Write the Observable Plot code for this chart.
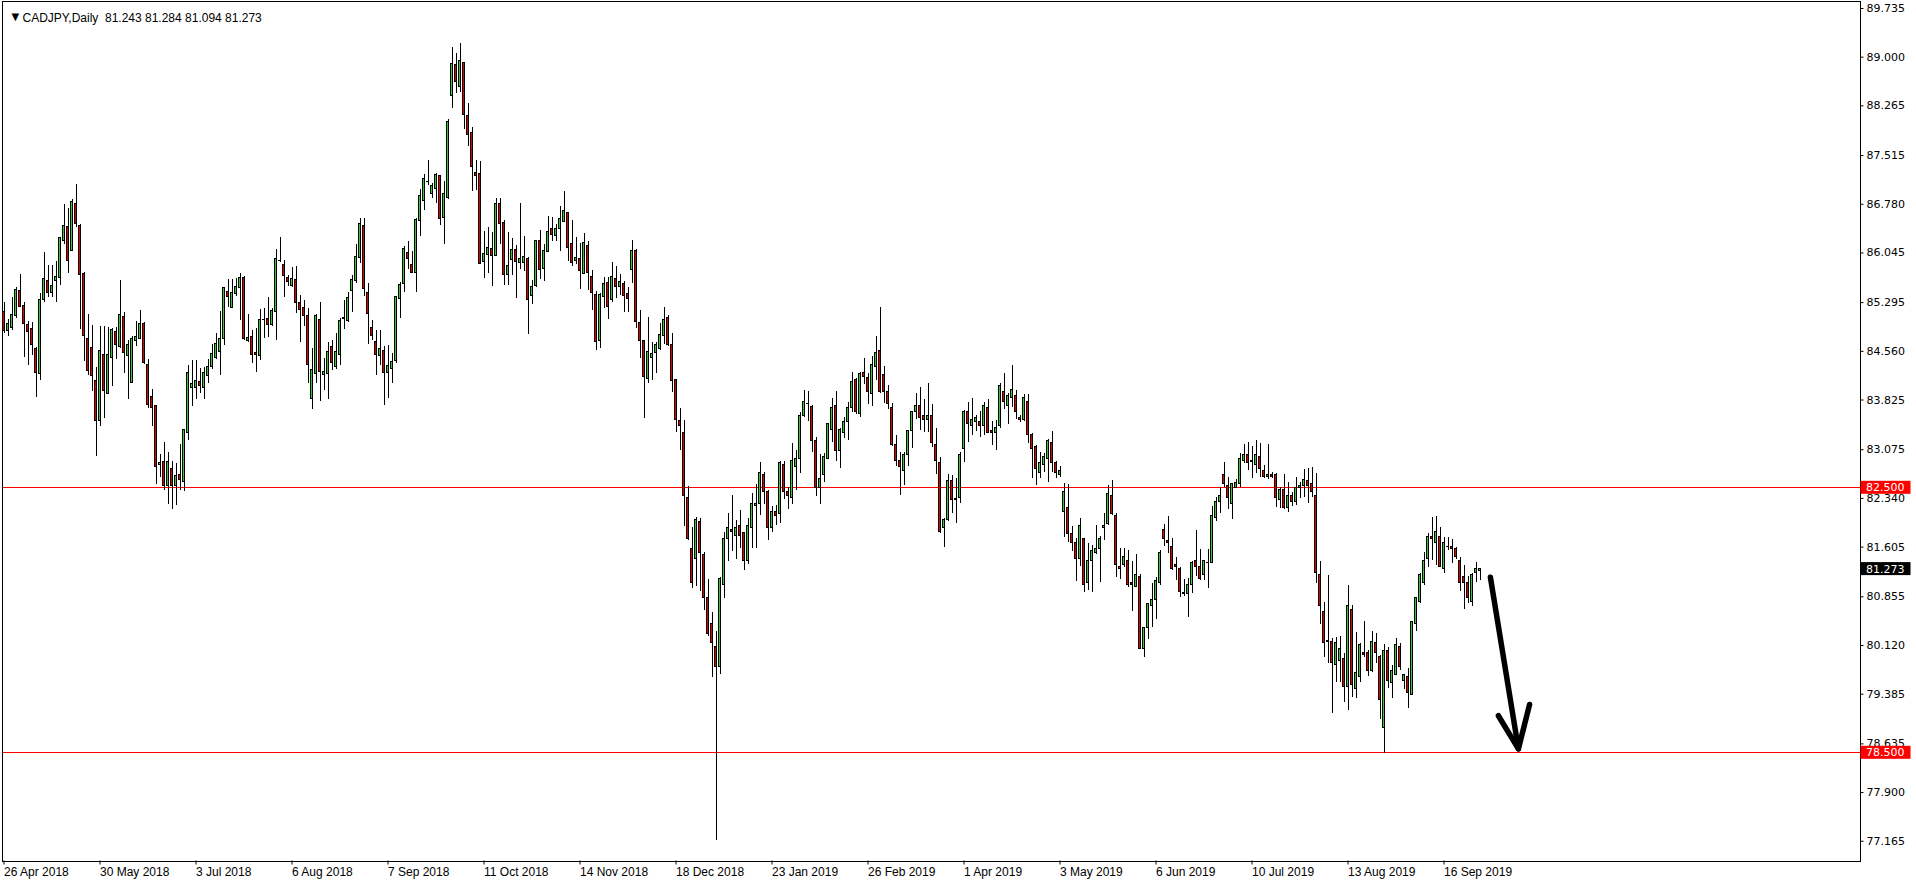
<!DOCTYPE html>
<html><head><meta charset="utf-8">
<script src="https://cdn.jsdelivr.net/npm/d3@7"></script>
<script src="https://cdn.jsdelivr.net/npm/@observablehq/plot@0.6"></script>
<style>html,body{margin:0;padding:0;background:#fff;overflow:hidden}</style>
</head><body><div id="chart"></div>
<script>
// CADJPY daily candles, bar index 0 = 26 Apr 2018 ... 369 = 27 Sep 2019
const open = [85.15,84.87,84.91,85.09,85.47,85.25,84.95,84.90,84.60,84.22,85.33,85.62,85.44,85.62,85.67,86.22,86.44,86.08,86.79,86.45,
85.73,84.75,84.61,84.11,83.51,84.51,83.92,84.46,84.85,84.63,85.08,84.49,84.08,84.72,84.75,84.97,84.36,83.87,83.73,82.85,
82.89,82.53,82.79,82.53,82.70,82.59,83.33,84.01,84.01,84.10,84.01,84.19,84.32,84.46,84.55,84.75,85.46,85.22,85.43,85.51,
85.67,84.71,84.78,84.53,84.49,85.03,85.05,84.96,85.15,85.93,85.87,85.66,85.54,85.64,85.29,85.21,85.09,83.84,84.22,85.03,
84.20,84.22,84.63,84.33,84.51,85.05,85.02,85.47,85.62,85.97,86.45,85.44,84.91,84.70,84.49,84.57,84.24,84.30,84.41,85.35,
85.57,86.05,85.87,85.74,86.53,86.83,87.12,86.93,87.01,87.20,86.57,86.87,88.42,88.88,88.55,88.91,88.11,87.86,87.25,87.24,
85.91,86.02,86.11,86.00,86.78,86.50,85.71,85.94,86.09,85.90,85.89,85.96,85.39,85.54,86.23,85.80,86.06,86.41,86.30,86.40,
86.51,86.65,86.18,85.93,85.96,85.73,86.15,85.68,85.41,84.72,85.38,85.59,85.34,85.65,85.53,85.58,85.42,85.79,86.08,84.99,
84.72,84.14,84.46,84.54,84.59,84.79,85.07,84.66,84.12,83.51,83.33,82.34,81.58,81.43,81.99,81.49,80.84,80.45,80.09,79.79,
81.04,81.72,81.87,81.78,81.92,81.82,81.39,81.89,82.22,82.26,82.69,82.43,81.89,82.13,82.11,82.84,82.43,82.34,82.82,82.93,
83.58,83.77,83.72,83.21,82.50,82.69,82.93,83.38,83.73,83.06,83.32,83.49,83.70,84.12,83.61,84.24,84.15,83.92,84.33,84.57,
84.21,83.95,83.71,83.15,82.90,82.76,83.00,83.35,83.64,83.73,83.58,83.53,83.59,83.15,82.87,81.90,82.01,82.61,82.33,82.34,
83.08,83.64,83.43,83.50,83.50,83.43,83.71,83.35,83.32,83.43,83.94,83.73,83.85,83.88,83.56,83.53,83.79,83.30,83.12,82.72,
82.85,82.94,83.17,82.87,82.70,82.13,82.20,81.80,81.67,81.43,81.73,81.07,81.39,81.51,81.57,81.89,81.95,82.38,82.07,81.31,
81.33,81.39,81.07,81.01,81.16,80.06,80.38,80.71,80.81,81.06,81.87,81.69,81.60,81.33,81.28,80.90,80.89,81.03,81.39,81.30,
81.19,81.36,81.36,82.04,82.28,82.69,82.53,82.26,82.50,82.56,82.90,83.00,82.90,82.84,82.97,82.76,82.66,82.70,82.70,82.31,
82.47,82.19,82.37,82.28,82.50,82.52,82.60,82.56,82.37,81.18,80.62,80.19,80.18,79.83,79.88,79.92,79.49,80.66,79.46,79.64,
80.01,80.00,79.73,80.16,79.95,78.88,80.04,79.56,79.68,80.09,79.59,79.65,79.38,80.44,80.77,81.06,81.43,81.75,81.67,81.76,
81.27,81.61,81.60,81.57,81.40,81.16,81.07,80.78,81.21,81.243];
const high = [85.30,85.04,85.38,85.52,85.72,85.29,85.01,85.00,84.62,85.43,86.05,85.86,85.86,85.91,86.28,86.78,86.71,86.85,87.08,86.48,
85.75,85.11,84.95,84.32,84.94,84.94,84.92,84.90,84.92,85.63,85.14,84.73,84.79,85.01,85.17,85.00,84.44,83.99,83.74,83.01,
83.18,83.03,82.89,82.86,83.15,83.38,84.34,84.42,84.42,84.30,84.31,84.44,84.67,84.83,85.16,85.53,85.64,85.65,85.66,85.73,
85.69,85.11,84.87,84.90,85.19,85.20,85.37,85.20,86.10,86.28,85.93,85.70,85.83,85.84,85.41,85.33,85.21,84.60,85.11,85.29,
84.45,84.70,84.72,84.83,85.05,85.32,85.45,85.71,86.17,86.56,86.56,85.58,85.03,84.87,84.87,84.64,84.65,84.52,85.39,85.60,
86.14,86.22,86.07,86.57,87.00,87.23,87.44,87.09,87.24,87.21,87.12,88.06,89.14,89.06,89.20,88.92,88.30,87.94,87.44,87.43,
86.37,86.43,86.36,86.86,86.86,86.53,86.35,86.27,86.16,86.79,86.29,85.98,85.63,86.23,86.38,86.18,86.59,86.58,86.47,86.75,
86.97,86.66,86.53,86.28,86.19,86.34,86.22,85.78,85.46,85.43,85.68,85.68,85.90,85.84,85.72,85.62,85.52,86.23,86.09,85.18,
84.73,85.07,84.69,84.70,84.98,85.22,85.10,84.83,84.14,83.70,83.51,82.52,81.90,82.05,82.04,81.52,81.12,80.62,80.33,81.15,
81.83,82.11,82.38,82.01,82.16,81.83,82.04,82.41,82.55,82.88,82.73,82.46,82.22,82.23,82.90,82.90,82.50,83.17,83.06,83.64,
83.97,83.95,83.74,83.26,83.00,83.02,83.47,83.85,83.95,83.40,83.56,83.79,84.24,84.15,84.24,84.45,84.23,84.48,84.78,85.22,
84.33,84.04,83.77,83.29,83.03,83.03,83.36,83.65,83.92,84.01,83.83,84.07,83.76,83.40,82.96,82.04,82.70,82.69,82.64,83.03,
83.67,83.79,83.85,83.59,83.65,83.79,83.83,83.50,83.52,84.07,84.23,83.92,84.35,83.97,83.59,83.91,83.91,83.32,83.14,83.03,
83.02,83.23,83.35,82.90,82.82,82.56,82.55,81.92,81.73,82.04,81.74,81.66,81.63,81.93,81.76,82.11,82.53,82.61,82.11,81.58,
81.58,81.55,81.39,81.49,81.19,80.39,80.75,81.06,81.15,81.55,81.95,82.07,81.73,81.45,81.29,81.12,81.13,81.39,81.86,81.57,
81.40,81.57,82.22,82.35,82.50,82.88,82.66,82.56,82.63,83.02,83.15,83.18,83.12,83.21,83.17,82.83,83.15,82.73,82.72,82.50,
82.70,82.58,82.43,82.66,82.58,82.78,82.79,82.81,82.72,81.39,80.77,81.18,80.23,80.24,80.26,80.00,81.03,80.72,80.32,80.15,
80.48,80.04,80.33,80.30,79.97,80.13,80.09,79.82,80.23,80.15,79.68,79.77,80.48,80.84,81.21,81.52,81.81,82.05,82.07,81.90,
81.75,81.75,81.72,81.60,81.45,81.33,81.16,81.20,81.37,81.284];
const low = [84.83,84.79,84.87,85.05,85.22,84.46,84.35,84.49,83.87,84.12,85.29,85.38,85.37,85.29,85.55,86.18,85.74,86.06,86.43,84.89,
84.41,84.19,83.96,82.98,83.42,83.55,83.91,84.03,84.43,84.60,84.23,83.84,84.07,84.64,84.74,84.36,83.69,83.42,82.55,82.65,
82.46,82.25,82.18,82.24,82.46,82.45,83.22,83.72,83.84,83.92,83.84,84.07,84.28,84.43,84.19,84.65,85.22,85.20,85.39,85.02,
84.73,84.69,84.37,84.24,84.42,84.76,84.77,84.94,84.72,85.90,85.38,85.54,85.53,85.13,84.70,84.94,84.08,83.68,84.08,83.81,
83.97,83.83,84.27,84.28,84.35,84.89,85.00,85.14,85.59,85.88,85.39,84.67,84.73,84.19,84.34,83.74,83.85,84.07,84.37,85.06,
85.45,85.80,85.73,85.45,86.30,86.69,87.06,86.87,86.79,86.46,86.18,86.85,88.23,88.45,88.46,87.91,87.65,86.98,86.99,85.87,
85.66,85.74,85.54,85.99,86.17,85.55,85.55,85.70,85.35,85.80,85.77,84.82,85.26,85.53,85.64,85.62,86.05,86.22,86.22,86.06,
86.50,85.92,85.84,85.87,85.50,85.72,85.48,85.18,84.58,84.61,85.21,85.04,85.30,85.35,85.40,85.14,85.14,85.59,84.90,84.45,
83.54,84.07,84.12,84.22,84.58,84.66,84.64,83.94,83.33,83.07,81.91,81.70,80.98,81.01,80.93,80.65,80.26,79.64,77.18,79.68,
80.83,81.39,81.54,81.42,81.58,81.25,81.34,81.58,81.58,82.08,82.25,81.70,81.83,81.93,81.96,82.32,82.17,82.25,82.46,82.72,
83.56,83.50,83.03,82.37,82.25,82.58,82.92,83.18,82.90,82.79,83.24,83.21,83.64,83.61,83.56,84.06,83.76,83.73,84.12,83.92,
83.77,83.68,83.12,82.82,82.38,82.53,82.82,83.09,83.53,83.36,83.33,83.33,83.11,82.70,81.81,81.60,81.99,82.11,81.96,82.26,
82.88,83.18,83.29,83.35,83.26,83.29,83.32,83.14,83.06,83.40,83.68,83.46,83.71,83.53,83.49,83.50,83.17,82.64,82.53,82.64,
82.73,82.58,82.73,82.64,82.66,81.75,81.67,81.54,81.09,81.31,80.92,80.95,80.92,81.49,81.07,81.70,81.93,82.08,81.15,81.12,
81.30,80.99,80.63,80.99,80.06,79.94,80.21,80.39,80.51,81.03,81.61,81.51,81.25,81.10,80.84,80.86,80.54,80.90,81.16,81.10,
81.10,80.98,81.35,81.99,82.11,82.50,82.17,82.02,82.49,82.50,82.87,82.76,82.64,82.72,82.66,82.64,82.63,82.64,82.20,82.19,
82.17,82.13,82.22,82.23,82.34,82.35,82.26,82.35,81.06,80.44,79.94,79.85,79.09,79.56,79.56,79.26,79.14,79.33,79.32,79.56,
79.94,79.65,79.71,79.85,79.00,78.49,79.47,79.32,79.67,79.74,79.46,79.17,79.37,80.33,80.75,81.03,81.30,81.40,81.33,81.30,
81.21,81.55,81.36,81.42,80.93,80.66,80.75,80.71,81.07,81.094];
const close = [84.87,84.98,85.11,85.49,85.23,84.98,84.85,84.66,84.24,85.34,85.65,85.44,85.55,85.68,86.27,86.45,85.93,86.82,86.48,85.71,
84.79,84.27,84.19,83.51,84.56,83.96,84.51,84.88,84.66,85.11,84.53,84.66,84.75,84.78,84.97,84.38,83.75,83.71,82.82,82.88,
82.53,82.89,82.53,82.68,82.62,83.37,84.24,84.07,84.11,84.04,84.24,84.32,84.52,84.67,84.75,85.51,85.38,85.44,85.53,85.67,
84.74,84.76,84.50,84.50,85.04,85.04,84.96,85.17,85.96,85.92,85.69,85.60,85.65,85.29,85.19,85.09,84.36,84.28,85.10,84.25,
84.25,84.55,84.39,84.55,85.02,85.06,85.37,85.64,85.98,86.48,85.50,85.13,84.79,84.51,84.60,84.24,84.34,84.40,85.38,85.56,
86.11,85.96,85.74,86.54,86.90,87.16,87.11,87.06,87.22,86.55,86.94,88.02,88.90,88.63,88.94,88.12,87.82,87.34,87.21,85.88,
86.03,86.12,86.00,86.78,86.48,85.71,85.85,86.09,85.91,85.96,85.98,85.34,85.53,86.22,85.79,86.07,86.36,86.32,86.41,86.56,
86.68,86.12,85.90,85.97,85.77,86.20,85.74,85.44,84.70,85.41,85.58,85.23,85.68,85.53,85.61,85.40,85.35,86.08,85.00,84.72,
84.17,84.55,84.52,84.66,84.81,85.03,84.65,84.11,83.53,83.44,82.38,81.73,81.07,82.02,81.51,80.84,80.30,80.15,79.79,81.12,
81.72,81.90,81.83,81.90,81.78,81.40,81.92,82.26,82.25,82.73,82.43,81.89,82.13,82.07,82.87,82.43,82.38,82.90,82.93,83.58,
83.80,83.76,83.20,82.49,82.63,82.97,83.46,83.71,83.06,83.38,83.50,83.70,84.10,83.64,84.22,84.18,83.94,84.35,84.53,83.95,
83.95,83.76,83.15,82.91,82.81,83.00,83.35,83.64,83.73,83.55,83.53,83.59,83.17,82.91,81.83,82.01,82.61,82.32,82.32,83.00,
83.65,83.46,83.52,83.56,83.44,83.73,83.33,83.32,83.41,84.03,83.79,83.89,83.98,83.64,83.52,83.85,83.30,83.09,82.78,82.88,
82.96,83.21,82.88,82.73,82.76,82.43,81.80,81.66,81.42,81.93,81.04,81.39,81.54,81.58,81.72,81.93,82.41,82.10,81.34,81.28,
81.45,81.04,81.04,81.19,80.07,80.38,80.74,80.81,81.10,81.51,81.72,81.66,81.28,81.30,80.92,80.91,81.04,81.37,81.31,81.13,
81.39,81.37,82.08,82.29,82.38,82.55,82.34,82.55,82.58,82.93,83.00,82.87,82.89,83.00,82.79,82.66,82.69,82.66,82.34,82.46,
82.19,82.37,82.29,82.50,82.53,82.62,82.53,82.43,81.21,80.72,80.16,80.17,79.86,80.16,80.06,79.49,80.71,79.52,79.70,80.13,
79.97,79.73,80.18,80.01,79.30,80.04,79.59,79.73,80.13,79.80,79.67,79.41,80.47,80.83,81.18,81.40,81.75,81.72,81.83,81.31,
81.66,81.60,81.57,81.45,81.06,81.07,80.84,81.19,81.28,81.273];

const dateTicks = [0,24,48,72,96,120,144,168,192,216,240,264,288,312,336,360];
const dateLabels = ["26 Apr 2018","30 May 2018","3 Jul 2018","6 Aug 2018","7 Sep 2018","11 Oct 2018","14 Nov 2018","18 Dec 2018",
  "23 Jan 2019","26 Feb 2019","1 Apr 2019","3 May 2019","6 Jun 2019","10 Jul 2019","13 Aug 2019","16 Sep 2019"];
const priceTicks = [89.735,89.000,88.265,87.515,86.780,86.045,85.295,84.560,83.825,83.075,82.340,81.605,80.855,80.120,79.385,78.635,77.900,77.165];
const levels = [82.5, 78.5];
const lastPrice = 81.273;
const titleText = "CADJPY,Daily\u00a0 81.243 81.284 81.094 81.273";
const arrowX = [371.6, 378.6];
const arrowPrice = [81.15, 78.56];
const headX = [373.6, 378.6, 381.4];
const headPrice = [79.06, 78.56, 79.23];

const UP = "#32cd32", DOWN = "#e00000";
const candles = d3.range(open.length).map(i => ({i, o: open[i], h: high[i], l: low[i], c: close[i]}));

const chart = Plot.plot({
  width: 1916, height: 884,
  marginLeft: 1.5, marginRight: 56.5, marginTop: 0.5, marginBottom: 23.5,
  x: {type: "linear", domain: [-0.5, 464], axis: null, label: null},
  y: {type: "linear", domain: [76.867, 89.848], axis: null, label: null},
  style: {background: "white", color: "black", fontFamily: "DejaVu Sans", fontSize: "11px"},
  marks: [
    Plot.ruleY(levels, {stroke: "#ff0000", strokeWidth: 1, shapeRendering: "crispEdges"}),
    Plot.ruleX(candles, {x: "i", y1: "l", y2: "h", stroke: "black", strokeWidth: 1, shapeRendering: "crispEdges"}),
    Plot.rect(candles, {x1: d => d.i - 0.25, x2: d => d.i + 0.25, y1: "o", y2: "c",
      fill: d => d.c >= d.o ? UP : DOWN, stroke: "black", strokeWidth: 1, shapeRendering: "crispEdges"}),
    Plot.line(d3.range(arrowX.length), {x: k => arrowX[k], y: k => arrowPrice[k], stroke: "black", strokeWidth: 5.5, strokeLinecap: "round"}),
    Plot.line(d3.range(headX.length), {x: k => headX[k], y: k => headPrice[k], stroke: "black", strokeWidth: 5.5, strokeLinecap: "round", strokeLinejoin: "round"}),
    Plot.frame({stroke: "black", strokeWidth: 1, shapeRendering: "crispEdges"}),
    Plot.axisY(priceTicks, {anchor: "right", label: null, tickSize: 3, tickPadding: 3.5, tickFormat: d3.format(".3f"),
      fontSize: 11, fontFamily: "DejaVu Sans", stroke: "black"}),
    Plot.axisX(dateTicks, {anchor: "bottom", label: null, tickSize: 4, tickPadding: 2, textAnchor: "start",
      tickFormat: v => dateLabels[dateTicks.indexOf(v)], fontSize: 12, fontFamily: "Liberation Sans"}),
    Plot.text(["\u25BC"], {frameAnchor: "top-left", dx: 9.5, dy: 12, fontSize: 10, fontFamily: "DejaVu Sans", fill: "black"}),
    Plot.text([titleText], {frameAnchor: "top-left", dx: 20.5, dy: 12.5, textAnchor: "start", fontSize: 12, fontFamily: "Liberation Sans", fill: "black"})
  ]
});
document.getElementById("chart").appendChild(chart);

// price-scale flags (positioned with Plot's own y scale)
const yS = chart.scale("y");
const svg = d3.select(chart);
const fmt = d3.format(".3f");
const flags = [{v: levels[0], bg: "#ff0000"}, {v: levels[1], bg: "#ff0000"}, {v: lastPrice, bg: "#000000"}];
const g = svg.append("g").attr("text-anchor", "start");
for (const f of flags) {
  const yy = yS.apply(f.v);
  g.append("rect").attr("x", 1860.5).attr("y", yy - 6.5).attr("width", 50).attr("height", 13).attr("fill", f.bg);
  g.append("text").attr("x", 1866).attr("y", yy).attr("dy", "0.36em").attr("text-anchor", "start")
    .attr("font-family", "DejaVu Sans").attr("font-size", 11).attr("fill", "white").text(fmt(f.v));
}
</script>
</body></html>
